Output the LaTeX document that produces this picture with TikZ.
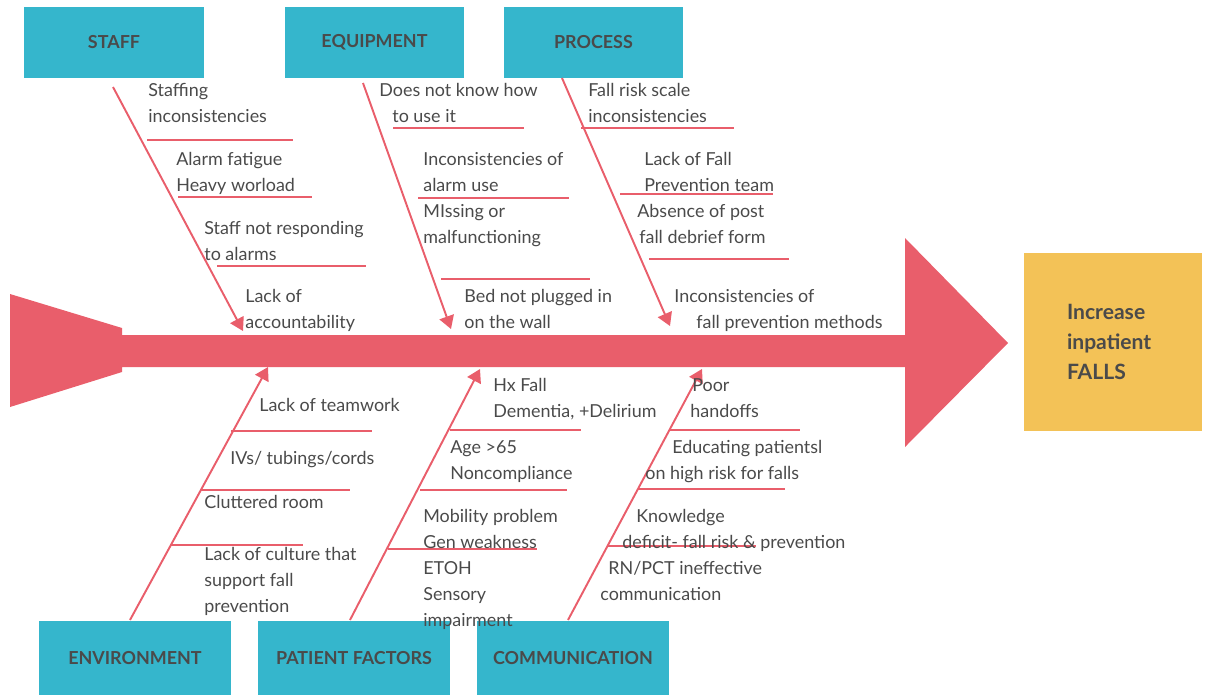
\documentclass[tikz,border=0pt]{standalone}
\usepackage{fontspec}
\setmainfont{Lato}
\usetikzlibrary{arrows.meta}
\definecolor{fishred}{HTML}{E95E6B}
\definecolor{boxteal}{HTML}{35B6CC}
\definecolor{effectgold}{HTML}{F3C257}
\definecolor{inkgray}{HTML}{4A4A4A}
\tikzset{cat/.style={fill=boxteal,minimum width=3.6cm,minimum height=1.42cm,inner sep=0pt,font=\fontsize{10.2}{13}\selectfont\bfseries,text=inkgray},bone/.style={draw=fishred,line width=1.1pt,-{Triangle[length=0.26cm,width=0.3cm]}},rib/.style={draw=fishred,line width=1.2pt},cause/.style={anchor=base west,inner sep=0pt,align=left,text=inkgray,font=\fontsize{10.2}{14.8}\selectfont}}
\begin{document}
\begin{tikzpicture}[x=0.02cm,y=-0.02cm]
\useasboundingbox (0,0) rectangle (1206,697);
% spine: tail, shaft and head
\fill[fishred] (10,294)--(122,328)--(122,335)--(905,335)--(905,238)--(1008,343)--(905,447)--(905,367)--(122,367)--(122,372)--(10,407)--cycle;
% categories
\node[cat] (staff) at (114,42.5) {STAFF};
\node[cat] (equip) at (374.5,42.5) {EQUIPMENT};
\node[cat] (proc) at (593.5,42.5) {PROCESS};
\node[cat,minimum width=3.84cm,minimum height=1.48cm] (env) at (135,658) {ENVIRONMENT};
\node[cat,minimum width=3.84cm,minimum height=1.48cm] (pat) at (354,658) {PATIENT FACTORS};
\node[cat,minimum width=3.84cm,minimum height=1.48cm] (comm) at (573,658) {COMMUNICATION};
\node[fill=effectgold,minimum width=3.56cm,minimum height=3.56cm,text width=1.84cm,align=left,font=\fontsize{12}{17}\selectfont\bfseries,text=inkgray] (falls) at (1113,342) {Increase\\inpatient\\FALLS};
% bones
\coordinate (staffA) at (113,87);  \coordinate (staffB) at (243,331);
\coordinate (equipA) at (363,83);  \coordinate (equipB) at (451,329);
\coordinate (procA) at (562,78);   \coordinate (procB) at (670,326);
\coordinate (envA) at (130,620);   \coordinate (envB) at (268,367);
\coordinate (patA) at (350,620);   \coordinate (patB) at (480,369);
\coordinate (commA) at (568,620);  \coordinate (commB) at (702,369);
\draw[bone] (staffA)--(staffB);
\draw[bone] (equipA)--(equipB);
\draw[bone] (procA)--(procB);
\draw[bone] (envA)--(envB);
\draw[bone] (patA)--(patB);
\draw[bone] (commA)--(commB);
% ribs
\draw[rib] (147,140)--(293,140) (178,197)--(312,197) (217,266)--(366,266);
\draw[rib] (393,128)--(524,128) (418,198)--(569,198) (441,279)--(590,279);
\draw[rib] (581,128)--(734,128) (620,194)--(773,194) (649,259)--(789,259);
\draw[rib] (231,431)--(372,431) (200,490)--(350,490) (170,545)--(303,545);
\draw[rib] (450,430)--(581,430) (420,490)--(567,490) (388,549)--(537,549);
\draw[rib] (669,430)--(800,430) (638,489)--(785,489) (607,546)--(756,546);
% causes (placed at the baseline of their last line): staff
\node[cause] (s1) at (148,122) {Staffing\\inconsistencies};
\node[cause] (s2) at (176,191) {Alarm fatigue\\Heavy worload};
\node[cause] (s3) at (204,260) {Staff not responding\\to alarms};
\node[cause] (s4) at (245,328) {Lack of\\accountability};
% causes: equipment
\node[cause] (e1) at (379,122) {Does not know how\\\hspace*{0.26cm}to use it};
\node[cause] (e2) at (423,191) {Inconsistencies of\\alarm use};
\node[cause] (e3) at (423,243) {MIssing or\\malfunctioning};
\node[cause] (e4) at (464,328) {Bed not plugged in\\on the wall};
% causes: process
\node[cause] (p1) at (588,122) {Fall risk scale\\inconsistencies};
\node[cause] (p2) at (644,191) {Lack of Fall\\Prevention team};
\node[cause] (p3) at (637,243) {Absence of post\\\hspace*{0.04cm}fall debrief form};
\node[cause] (p4) at (674,328) {Inconsistencies of\\\hspace*{0.44cm}fall prevention methods};
% causes: environment
\node[cause] (v1) at (259,411) {Lack of teamwork};
\node[cause] (v2) at (230,464) {IVs/ tubings/cords};
\node[cause] (v3) at (204,508) {Cluttered room};
\node[cause] (v4) at (204,612) {Lack of culture that\\support fall\\prevention};
% causes: patient factors
\node[cause] (f1) at (493,417) {Hx Fall\\Dementia, +Delirium};
\node[cause] (f2) at (450,479) {Age >65\\Noncompliance};
\node[cause] (f3) at (423,626) {Mobility problem\\Gen weakness\\ETOH\\Sensory\\impairment};
% causes: communication
\node[cause] (c1) at (690,417) {\hspace*{0.04cm}Poor\\handoffs};
\node[cause] (c2) at (645,479) {\hspace*{0.54cm}Educating patientsl\\on high risk for falls};
\node[cause] (c3) at (622,548) {\hspace*{0.28cm}Knowledge\\deficit- fall risk \& prevention};
\node[cause] (c4) at (600,600) {\hspace*{0.16cm}RN/PCT ineffective\\communication};
\end{tikzpicture}
\end{document}
